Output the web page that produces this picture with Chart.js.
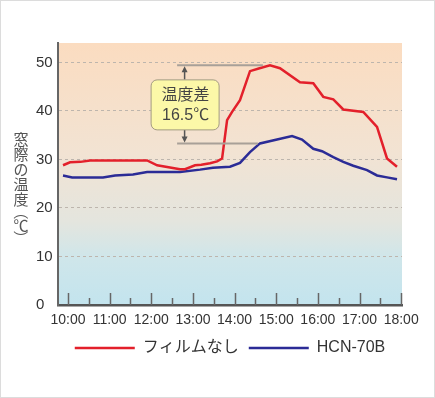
<!DOCTYPE html>
<html lang="ja">
<head>
    <meta charset="UTF-8">
    <title>窓際の温度</title>
    <script src="https://cdn.jsdelivr.net/npm/chart.js"></script>
    <style>
        body { margin: 0; background: #fff; }
        .frame { width: 435px; height: 398px; box-sizing: border-box; border: 1px solid #dcdcdc; }
    </style>
</head>
<body>
    <div class="frame">
        <canvas id="tempChart" width="433" height="396"></canvas>
    </div>
    <script>
        // hours on the x axis and their labels
        const hourTicks = [10, 11, 12, 13, 14, 15, 16, 17, 18];
        const hourLabels = ['10:00', '11:00', '12:00', '13:00', '14:00', '15:00', '16:00', '17:00', '18:00'];
        const tempTicks = [0, 10, 20, 30, 40, 50];

        const seriesNames = ['フィルムなし', 'HCN-70B'];

        // フィルムなし (time in hours, temperature in ℃)
        const redTimes = [9.88, 10.05, 10.3, 10.53, 11.9, 12.14, 12.69, 12.81, 13.05, 13.2, 13.41, 13.58, 13.7, 13.82, 13.94,
            14.13, 14.37, 14.6, 14.85, 15.09, 15.57, 15.89, 16.13, 16.37, 16.61, 17.09, 17.42, 17.66, 17.9];
        const redTemps = [28.8, 29.4, 29.5, 29.8, 29.8, 28.8, 28.0, 28.0, 28.8, 28.9, 29.2, 29.6, 30.2, 38.1, 39.8,
            42.2, 48.2, 48.8, 49.4, 48.8, 45.9, 45.7, 42.9, 42.4, 40.3, 39.8, 36.7, 30.2, 28.5];

        // HCN-70B
        const blueTimes = [9.88, 10.1, 10.84, 11.13, 11.56, 11.9, 12.69, 13.17, 13.48, 13.89, 14.13, 14.37, 14.61, 15.02,
            15.38, 15.62, 15.89, 16.1, 16.37, 16.61, 16.85, 17.18, 17.42, 17.66, 17.9];
        const blueTemps = [26.7, 26.3, 26.3, 26.7, 26.9, 27.4, 27.4, 27.9, 28.3, 28.5, 29.3, 31.5, 33.3, 34.1,
            34.8, 34.1, 32.2, 31.7, 30.5, 29.5, 28.7, 27.8, 26.7, 26.3, 25.9];

        const yTitle = '窓際の温度（℃）';
        const diffText = ['温度差', '16.5℃'];
        const diffTop = 49.4, diffBottom = 33.3;
        const diffFrom = 12.62, diffTopTo = 14.68, diffBottomTo = 14.56, diffArrowAt = 12.8;

        Chart.defaults.font.family = "'Liberation Sans', 'Noto Sans CJK JP', sans-serif";
        Chart.defaults.color = '#333';

        const toPoints = (xs, ys) => xs.map((x, i) => ({ x: x, y: ys[i] }));

        const decorPlugin = {
            id: 'decor',
            beforeDraw(chart) {
                const { ctx, chartArea: a } = chart;
                ctx.save();
                // plot background: peach at the top to light blue at the bottom
                const g = ctx.createLinearGradient(0, a.top, 0, a.bottom);
                g.addColorStop(0, '#fbdcc0');
                g.addColorStop(0.42, '#f2e3d3');
                g.addColorStop(0.68, '#e4e5de');
                g.addColorStop(0.82, '#cfe6ea');
                g.addColorStop(1, '#c3e4ee');
                ctx.fillStyle = g;
                ctx.fillRect(a.left, a.top, a.right - a.left, a.bottom - a.top);

                // vertical y title, upright characters
                ctx.fillStyle = '#555';
                ctx.font = "15px 'Noto Sans CJK JP'";
                ctx.textAlign = 'center';
                ctx.textBaseline = 'middle';
                let y = 138;
                for (const ch of yTitle) {
                    const paren = ch === '（' || ch === '）';
                    if (paren) {
                        y -= 2;
                        ctx.save();
                        ctx.translate(20, y);
                        ctx.rotate(Math.PI / 2);
                        ctx.fillText(ch, 0, 0);
                        ctx.restore();
                        y += 13;
                    } else {
                        ctx.fillText(ch, 20, y);
                        y += 15;
                    }
                }
                ctx.restore();
            },
            afterDraw(chart) {
                const { ctx, chartArea: a } = chart;
                const xs = chart.scales.x, ys = chart.scales.y;
                ctx.save();

                // inner ticks on the time axis (hours and half hours)
                ctx.strokeStyle = '#666';
                ctx.lineWidth = 1.5;
                for (let h = hourTicks[0]; h <= hourTicks[hourTicks.length - 1]; h += 0.5) {
                    const px = Math.round(xs.getPixelForValue(h)) + 0.5;
                    const len = Number.isInteger(h) ? 12 : 7;
                    ctx.beginPath();
                    ctx.moveTo(px, a.bottom);
                    ctx.lineTo(px, a.bottom - len);
                    ctx.stroke();
                }

                // temperature difference marker
                const yT = ys.getPixelForValue(diffTop);
                const yB = ys.getPixelForValue(diffBottom);
                const x0 = xs.getPixelForValue(diffFrom);
                ctx.strokeStyle = '#a8a098';
                ctx.lineWidth = 2;
                ctx.beginPath();
                ctx.moveTo(x0, yT); ctx.lineTo(xs.getPixelForValue(diffTopTo), yT);
                ctx.moveTo(x0, yB); ctx.lineTo(xs.getPixelForValue(diffBottomTo), yB);
                ctx.stroke();

                const ax = xs.getPixelForValue(diffArrowAt);
                const cy = (yT + yB) / 2;
                const bw = 68, bh = 50;

                ctx.strokeStyle = '#555';
                ctx.fillStyle = '#555';
                ctx.lineWidth = 1.5;
                ctx.beginPath();
                ctx.moveTo(ax, cy - bh / 2); ctx.lineTo(ax, yT + 5);
                ctx.moveTo(ax, cy + bh / 2); ctx.lineTo(ax, yB - 5);
                ctx.stroke();
                ctx.beginPath();
                ctx.moveTo(ax, yT + 1); ctx.lineTo(ax - 3, yT + 7); ctx.lineTo(ax + 3, yT + 7); ctx.closePath();
                ctx.moveTo(ax, yB - 1); ctx.lineTo(ax - 3, yB - 7); ctx.lineTo(ax + 3, yB - 7); ctx.closePath();
                ctx.fill();

                ctx.fillStyle = '#fcf8a8';
                ctx.strokeStyle = '#a39c80';
                ctx.lineWidth = 1;
                ctx.beginPath();
                ctx.roundRect(ax - bw / 2 + 0.5, cy - bh / 2 + 0.5, bw, bh, 6);
                ctx.fill();
                ctx.stroke();

                ctx.fillStyle = '#444';
                ctx.font = "16px 'Liberation Sans', 'Noto Sans CJK JP'";
                ctx.textAlign = 'center';
                ctx.textBaseline = 'middle';
                ctx.fillText(diffText[0], ax + 1, cy - 9);
                ctx.fillText(diffText[1], ax + 1, cy + 11);
                ctx.restore();
            }
        };

        const ctx = document.getElementById('tempChart').getContext('2d');
        const tempChart = new Chart(ctx, {
            type: 'line',
            data: {
                datasets: [
                    {
                        label: seriesNames[0],
                        data: toPoints(redTimes, redTemps),
                        borderColor: '#e3202b',
                        backgroundColor: '#e3202b',
                        borderWidth: 2.5,
                        pointRadius: 0,
                        tension: 0
                    },
                    {
                        label: seriesNames[1],
                        data: toPoints(blueTimes, blueTemps),
                        borderColor: '#2b2b96',
                        backgroundColor: '#2b2b96',
                        borderWidth: 2.5,
                        pointRadius: 0,
                        tension: 0
                    }
                ]
            },
            options: {
                responsive: false,
                animation: false,
                layout: { padding: { top: 42, right: 32, bottom: 31, left: 35 } },
                plugins: {
                    tooltip: { enabled: false },
                    legend: {
                        position: 'bottom',
                        fullSize: false,
                        labels: {
                            usePointStyle: true,
                            pointStyle: 'line',
                            pointStyleWidth: 60,
                            padding: 10,
                            color: '#333',
                            font: { size: 16 }
                        }
                    }
                },
                scales: {
                    x: {
                        type: 'linear',
                        min: 9.76,
                        max: 18.02,
                        afterFit: s => { s.height = 25; },
                        afterBuildTicks: s => { s.ticks = hourTicks.map(v => ({ value: v })); },
                        ticks: {
                            padding: 7,
                            maxRotation: 0,
                            color: '#333',
                            font: { size: 14 },
                            callback: v => hourLabels[hourTicks.indexOf(v)]
                        },
                        grid: { display: false, drawTicks: false },
                        border: { display: true, color: '#555', width: 2.5 }
                    },
                    y: {
                        min: 0,
                        max: 54,
                        afterFit: s => { s.width = 22; },
                        afterBuildTicks: s => { s.ticks = tempTicks.map(v => ({ value: v })); },
                        ticks: {
                            crossAlign: 'far',
                            color: '#333',
                            font: { size: 15 }
                        },
                        grid: {
                            drawTicks: false,
                            lineWidth: 1,
                            color: c => (c.tick && c.tick.value === 0) ? 'rgba(0,0,0,0)' : '#bdb5ad'
                        },
                        border: { display: true, color: '#666', width: 2, dash: [3, 3] }
                    }
                }
            },
            plugins: [decorPlugin]
        });
    </script>
</body>
</html>
